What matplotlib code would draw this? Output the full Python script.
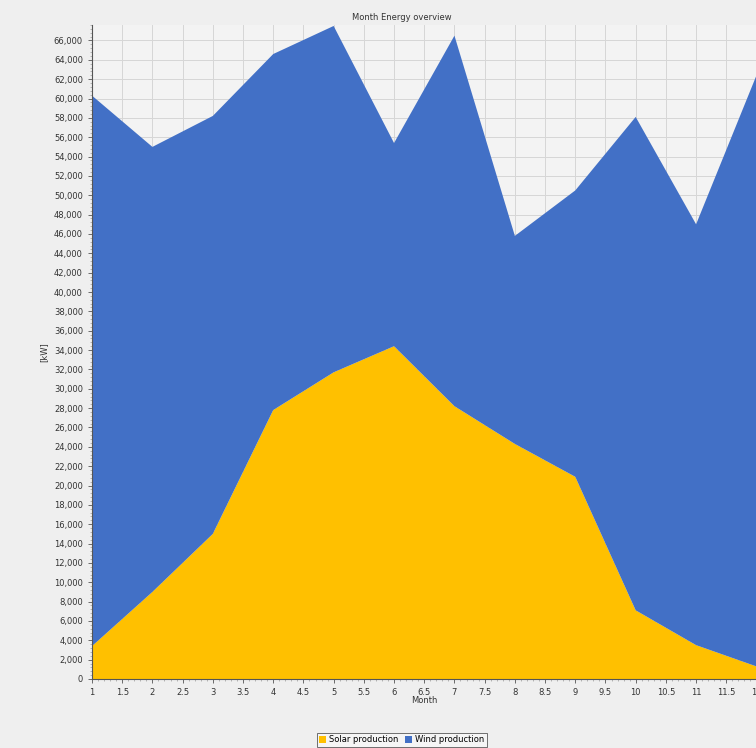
import matplotlib
matplotlib.use("Agg")
import matplotlib.pyplot as plt
from matplotlib.ticker import MultipleLocator, FuncFormatter

months = [1, 2, 3, 4, 5, 6, 7, 8, 9, 10, 11, 12]
solar = [3400, 9000, 15000, 27800, 31700, 34400, 28200, 24300, 20900, 7100, 3500, 1300]
wind = [56900, 46000, 43200, 36800, 35800, 21000, 38300, 21500, 29600, 51000, 43500, 61100]
series_names = ["Solar production", "Wind production"]
colors = ["#FFC000", "#4270C6"]

fig = plt.figure(figsize=(7.56, 7.48), dpi=100, facecolor="#efefef")
ax = fig.add_axes([92/756, 69/748, 664.5/756, 654/748])
ax.set_facecolor("#f3f3f3")

ax.stackplot(months, solar, wind, colors=colors, labels=series_names, linewidth=0, zorder=2)

ax.set_xlim(1, 12)
ax.set_ylim(0, 67600)
ax.xaxis.set_major_locator(MultipleLocator(0.5))
ax.yaxis.set_major_locator(MultipleLocator(2000))
ax.xaxis.set_minor_locator(MultipleLocator(0.1))
ax.yaxis.set_minor_locator(MultipleLocator(400))
ax.yaxis.set_major_formatter(FuncFormatter(lambda v, p: f"{int(v):,}"))
ax.xaxis.set_major_formatter(FuncFormatter(lambda v, p: f"{v:g}"))
ax.grid(True, which="major", color="#d6d6d6", linewidth=0.7, zorder=0)
ax.set_axisbelow(True)

for s in ["top", "right"]:
    ax.spines[s].set_visible(False)
ax.spines["left"].set_color("#555555")
ax.spines["bottom"].set_color("#555555")
ax.spines["left"].set_linewidth(0.8)
ax.spines["bottom"].set_linewidth(0.8)
ax.tick_params(axis="both", which="major", labelsize=6, colors="#555555", length=3, width=0.6, labelcolor="#333333")
ax.tick_params(axis="both", which="minor", length=1.5, width=0.4, colors="#888888")

ax.set_xlabel("Month", fontsize=6, color="#333333", labelpad=-1)
ax.set_ylabel("[kW]", fontsize=6, color="#333333", labelpad=4)
fig.text(402/756, 1 - 17/748, "Month Energy overview", ha="center", va="center", fontsize=6, color="#333333")

leg = fig.legend(loc="center", bbox_to_anchor=(402/756, 1 - 740/748), ncol=2, fontsize=6,
                 frameon=True, fancybox=False, edgecolor="#333333", handlelength=0.8,
                 handleheight=0.8, handletextpad=0.4, columnspacing=0.8, borderpad=0.3,
                 borderaxespad=0)
leg.get_frame().set_linewidth(0.6)
leg.get_frame().set_facecolor("#f7f7f7")

fig.savefig("out.png", dpi=100, facecolor=fig.get_facecolor())
